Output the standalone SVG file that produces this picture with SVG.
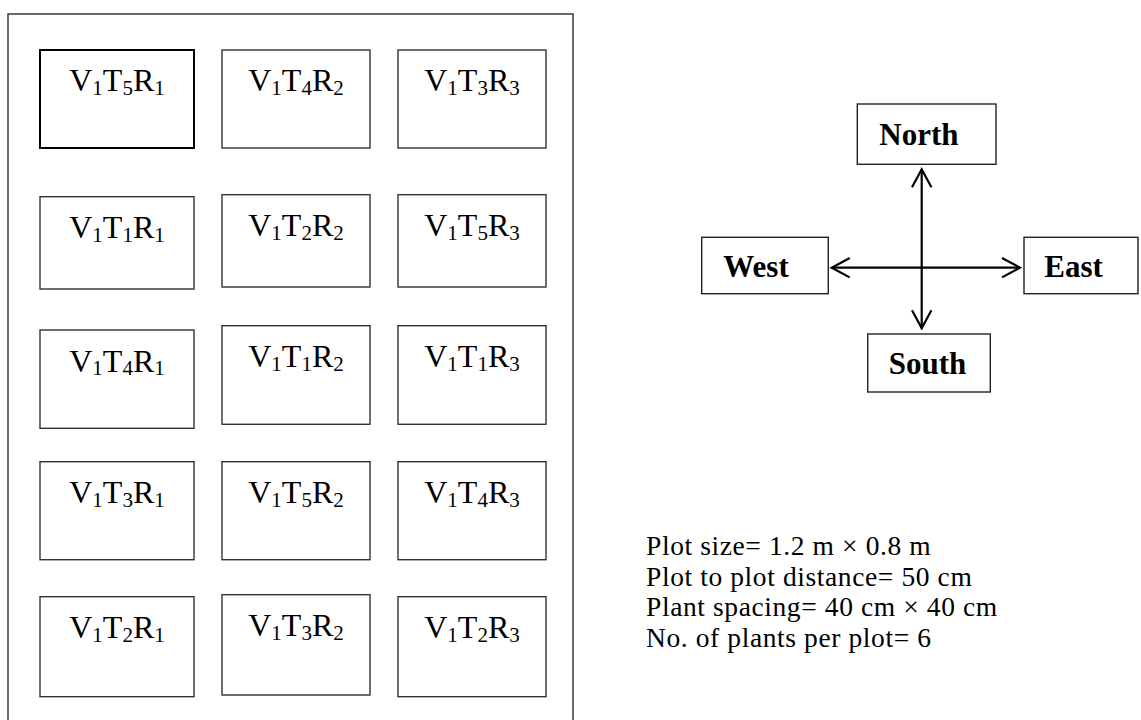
<svg xmlns="http://www.w3.org/2000/svg" width="1141" height="720" viewBox="0 0 1141 720">
<style>
  .frame{fill:none;stroke:#3a3a3a;stroke-width:1.5}
  .plot{fill:#fff;stroke:#333;stroke-width:1.4}
  .plot.thick{stroke:#000;stroke-width:2}
  .lbl{font-family:"Liberation Serif","Times New Roman",serif;font-size:32px;fill:#000;text-anchor:middle}
  .s{font-size:21px}
  .dir{fill:#fff;stroke:#222;stroke-width:1.4}
  .dtx{font-family:"Liberation Serif","Times New Roman",serif;font-size:31px;font-weight:bold;fill:#000}
  .note{font-family:"Liberation Serif","Times New Roman",serif;font-size:27.5px;letter-spacing:0.6px;fill:#000}
  .arr{stroke:#000;stroke-width:2.2;fill:none}
</style>
<defs>
  <marker id="chev" viewBox="-22 -12 26 24" markerWidth="26" markerHeight="24" refX="0" refY="0" markerUnits="userSpaceOnUse" orient="auto-start-reverse">
    <path d="M-18,-9.7 L0,0 L-18,9.7" fill="none" stroke="#000" stroke-width="2.2"/>
  </marker>
</defs>
<rect class="frame" x="8" y="14" width="565" height="730"/>

<g id="p-V1T5R1"><rect class="plot thick" x="40" y="50" width="154" height="98"/><text class="lbl" x="117" y="91">V<tspan class="s" dy="3.5">1</tspan><tspan dy="-3.5">T</tspan><tspan class="s" dy="3.5">5</tspan><tspan dy="-3.5">R</tspan><tspan class="s" dy="3.5">1</tspan></text></g>
<g id="p-V1T4R2"><rect class="plot" x="222" y="50" width="148" height="98"/><text class="lbl" x="296" y="91">V<tspan class="s" dy="3.5">1</tspan><tspan dy="-3.5">T</tspan><tspan class="s" dy="3.5">4</tspan><tspan dy="-3.5">R</tspan><tspan class="s" dy="3.5">2</tspan></text></g>
<g id="p-V1T3R3"><rect class="plot" x="398" y="50" width="148" height="98"/><text class="lbl" x="472" y="91">V<tspan class="s" dy="3.5">1</tspan><tspan dy="-3.5">T</tspan><tspan class="s" dy="3.5">3</tspan><tspan dy="-3.5">R</tspan><tspan class="s" dy="3.5">3</tspan></text></g>

<g id="p-V1T1R1"><rect class="plot" x="40" y="196.7" width="154" height="92.3"/><text class="lbl" x="117" y="238">V<tspan class="s" dy="3.5">1</tspan><tspan dy="-3.5">T</tspan><tspan class="s" dy="3.5">1</tspan><tspan dy="-3.5">R</tspan><tspan class="s" dy="3.5">1</tspan></text></g>
<g id="p-V1T2R2"><rect class="plot" x="222" y="194.7" width="148" height="92.3"/><text class="lbl" x="296" y="236">V<tspan class="s" dy="3.5">1</tspan><tspan dy="-3.5">T</tspan><tspan class="s" dy="3.5">2</tspan><tspan dy="-3.5">R</tspan><tspan class="s" dy="3.5">2</tspan></text></g>
<g id="p-V1T5R3"><rect class="plot" x="398" y="194.7" width="148" height="92.3"/><text class="lbl" x="472" y="236">V<tspan class="s" dy="3.5">1</tspan><tspan dy="-3.5">T</tspan><tspan class="s" dy="3.5">5</tspan><tspan dy="-3.5">R</tspan><tspan class="s" dy="3.5">3</tspan></text></g>

<g id="p-V1T4R1"><rect class="plot" x="40" y="330" width="154" height="98.3"/><text class="lbl" x="117" y="371.5">V<tspan class="s" dy="3.5">1</tspan><tspan dy="-3.5">T</tspan><tspan class="s" dy="3.5">4</tspan><tspan dy="-3.5">R</tspan><tspan class="s" dy="3.5">1</tspan></text></g>
<g id="p-V1T1R2"><rect class="plot" x="222" y="325.7" width="148" height="98.6"/><text class="lbl" x="296" y="367">V<tspan class="s" dy="3.5">1</tspan><tspan dy="-3.5">T</tspan><tspan class="s" dy="3.5">1</tspan><tspan dy="-3.5">R</tspan><tspan class="s" dy="3.5">2</tspan></text></g>
<g id="p-V1T1R3"><rect class="plot" x="398" y="325.7" width="148" height="98.6"/><text class="lbl" x="472" y="367">V<tspan class="s" dy="3.5">1</tspan><tspan dy="-3.5">T</tspan><tspan class="s" dy="3.5">1</tspan><tspan dy="-3.5">R</tspan><tspan class="s" dy="3.5">3</tspan></text></g>

<g id="p-V1T3R1"><rect class="plot" x="40" y="461.7" width="154" height="98"/><text class="lbl" x="117" y="503">V<tspan class="s" dy="3.5">1</tspan><tspan dy="-3.5">T</tspan><tspan class="s" dy="3.5">3</tspan><tspan dy="-3.5">R</tspan><tspan class="s" dy="3.5">1</tspan></text></g>
<g id="p-V1T5R2"><rect class="plot" x="222" y="461.7" width="148" height="98"/><text class="lbl" x="296" y="503">V<tspan class="s" dy="3.5">1</tspan><tspan dy="-3.5">T</tspan><tspan class="s" dy="3.5">5</tspan><tspan dy="-3.5">R</tspan><tspan class="s" dy="3.5">2</tspan></text></g>
<g id="p-V1T4R3"><rect class="plot" x="398" y="461.7" width="148" height="98"/><text class="lbl" x="472" y="503">V<tspan class="s" dy="3.5">1</tspan><tspan dy="-3.5">T</tspan><tspan class="s" dy="3.5">4</tspan><tspan dy="-3.5">R</tspan><tspan class="s" dy="3.5">3</tspan></text></g>

<g id="p-V1T2R1"><rect class="plot" x="40" y="596.7" width="154" height="100"/><text class="lbl" x="117" y="638">V<tspan class="s" dy="3.5">1</tspan><tspan dy="-3.5">T</tspan><tspan class="s" dy="3.5">2</tspan><tspan dy="-3.5">R</tspan><tspan class="s" dy="3.5">1</tspan></text></g>
<g id="p-V1T3R2"><rect class="plot" x="222" y="594.7" width="148" height="100.3"/><text class="lbl" x="296" y="636">V<tspan class="s" dy="3.5">1</tspan><tspan dy="-3.5">T</tspan><tspan class="s" dy="3.5">3</tspan><tspan dy="-3.5">R</tspan><tspan class="s" dy="3.5">2</tspan></text></g>
<g id="p-V1T2R3"><rect class="plot" x="398" y="596.7" width="148" height="100"/><text class="lbl" x="472" y="638">V<tspan class="s" dy="3.5">1</tspan><tspan dy="-3.5">T</tspan><tspan class="s" dy="3.5">2</tspan><tspan dy="-3.5">R</tspan><tspan class="s" dy="3.5">3</tspan></text></g>

<g id="north"><rect class="dir" x="857.3" y="104" width="138.7" height="60.3"/><text class="dtx" x="879.3" y="145">North</text></g>
<g id="west"><rect class="dir" x="701.7" y="237.3" width="126.6" height="56.4"/><text class="dtx" x="723.3" y="277.3">West</text></g>
<g id="east"><rect class="dir" x="1024" y="237.3" width="114" height="56.4"/><text class="dtx" x="1044.3" y="277.3">East</text></g>
<g id="south"><rect class="dir" x="867.7" y="334" width="122.6" height="58"/><text class="dtx" x="888.7" y="374">South</text></g>

<g id="connectors">
  <line class="arr" x1="921.7" y1="328.3" x2="921.7" y2="169.3" marker-start="url(#chev)" marker-end="url(#chev)"/>
  <line class="arr" x1="831.7" y1="267.7" x2="1020" y2="267.7" marker-start="url(#chev)" marker-end="url(#chev)"/>
</g>

<g id="notes">
  <text class="note" x="646" y="555">Plot size= 1.2 m × 0.8 m</text>
  <text class="note" x="646" y="585.5">Plot to plot distance= 50 cm</text>
  <text class="note" x="646" y="616">Plant spacing= 40 cm × 40 cm</text>
  <text class="note" x="646" y="646.5">No. of plants per plot= 6</text>
</g>
</svg>
